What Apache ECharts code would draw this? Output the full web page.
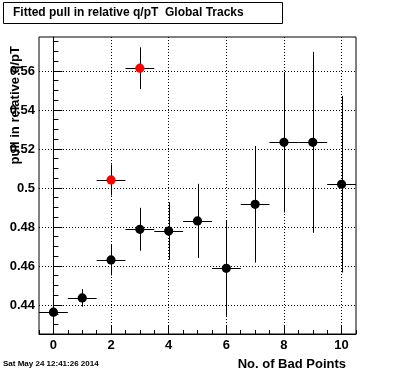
<!DOCTYPE html>
<html>
<head>
<meta charset="utf-8">
<script src="https://cdn.jsdelivr.net/npm/echarts@6/dist/echarts.min.js"></script>
<style>
html,body{margin:0;padding:0;background:#fff;}
#chart{width:396px;height:372px;}
</style>
</head>
<body>
<div id="chart"></div>
<script>
// ---- data ----
var xBins = [0, 1, 2, 3, 4, 5, 6, 7, 8, 9, 10];
var blackY = [0.4363, 0.4436, 0.4631, 0.4788, 0.4779, 0.4831, 0.4588, 0.4916, 0.5234, 0.5234, 0.5019];
var blackErr = [0.0055, 0.0045, 0.0080, 0.0110, 0.0148, 0.0190, 0.0244, 0.0299, 0.0360, 0.0464, 0.0453];
var redX = [2, 3];
var redY = [0.5041, 0.5614];
var redErr = [0.0080, 0.0107];
var binHalfWidth = 0.5;

var xMajorTicks = [0, 2, 4, 6, 8, 10];
var yMajorTicks = [0.44, 0.46, 0.48, 0.50, 0.52, 0.54, 0.56];
var xRange = [-0.5, 10.5];
var yRange = [0.4251, 0.5774];

var titleText = 'Fitted pull in relative q/pT  Global Tracks';
var xTitle = 'No. of Bad Points';
var yTitle = 'pull in relative q/pT';
var dateText = 'Sat May 24 12:41:26 2014';

// minor tick positions
var xMinorTicks = [];
for (var i = -1; i <= 21; i++) { var v = i * 0.5; if (v >= xRange[0] && v <= xRange[1]) xMinorTicks.push(+v.toFixed(2)); }
var yMinorTicks = [];
for (var j = 84; j <= 116; j++) { var w = +(j * 0.005).toFixed(3); if (w >= yRange[0] && w <= yRange[1]) yMinorTicks.push(w); }

var FONT = '"Liberation Sans", Arial, Helvetica, sans-serif';

function makeData(xs, ys, es) {
  return xs.map(function (x, k) { return [x, ys[k], es[k]]; });
}

function renderPoint(color) {
  return function (params, api) {
    var x = api.value(0), y = api.value(1), e = api.value(2);
    var c = api.coord([x, y]);
    var l = api.coord([x - binHalfWidth, y]);
    var r = api.coord([x + binHalfWidth, y]);
    var t = api.coord([x, y + e]);
    var b = api.coord([x, y - e]);
    var cx = Math.round(c[0]) + 0.5, cy = Math.round(c[1]) + 0.5;
    return {
      type: 'group',
      children: [
        { type: 'line', shape: { x1: l[0], y1: cy, x2: r[0], y2: cy }, style: { stroke: '#000', lineWidth: 1 } },
        { type: 'line', shape: { x1: cx, y1: t[1], x2: cx, y2: b[1] }, style: { stroke: '#000', lineWidth: 1 } },
        { type: 'circle', shape: { cx: c[0], cy: c[1], r: 4.6 }, style: { fill: color } }
      ]
    };
  };
}

var chart = echarts.init(document.getElementById('chart'), null, { renderer: 'canvas' });

var dotted = { show: true, lineStyle: { color: '#000', width: 1, type: [1, 2] } };

chart.setOption({
  backgroundColor: '#fff',
  animation: false,
  grid: { left: 39, right: 40, top: 37, bottom: 38, show: true, borderColor: '#000', borderWidth: 1, backgroundColor: 'transparent' },
  xAxis: [
    {
      type: 'value', min: xRange[0], max: xRange[1], position: 'bottom',
      axisLine: { show: true, lineStyle: { color: '#000', width: 1 } },
      axisTick: { show: true, inside: true, length: 8, customValues: xMajorTicks, lineStyle: { color: '#000' } },
      axisLabel: { show: true, customValues: xMajorTicks, margin: 5, color: '#000', fontFamily: FONT, fontWeight: 'bold', fontSize: 13 },
      splitLine: dotted
    },
    {
      type: 'value', min: xRange[0], max: xRange[1], position: 'bottom', offset: 0,
      axisLine: { show: false },
      axisTick: { show: true, inside: true, length: 4, customValues: xMinorTicks, lineStyle: { color: '#000' } },
      axisLabel: { show: false },
      splitLine: { show: false }
    }
  ],
  yAxis: [
    {
      type: 'value', min: yRange[0], max: yRange[1], position: 'left',
      axisLine: { show: true, lineStyle: { color: '#000', width: 1 } },
      axisTick: { show: true, inside: true, length: 9, customValues: yMajorTicks, lineStyle: { color: '#000' } },
      axisLabel: {
        show: true, customValues: yMajorTicks, margin: 4, color: '#000', fontFamily: FONT, fontWeight: 'bold', fontSize: 13,
        formatter: function (v) { return String(+v.toFixed(2)); }
      },
      splitLine: dotted
    },
    {
      type: 'value', min: yRange[0], max: yRange[1], position: 'left', offset: 0,
      axisLine: { show: false },
      axisTick: { show: true, inside: true, length: 5, customValues: yMinorTicks, lineStyle: { color: '#000' } },
      axisLabel: { show: false },
      splitLine: { show: false }
    }
  ],
  graphic: [
    { type: 'rect', shape: { x: 3.5, y: 2.5, width: 279, height: 21 }, style: { fill: '#fff', stroke: '#000', lineWidth: 1 }, z: 10 },
    { type: 'text', x: 13, y: 13, style: { text: titleText, fill: '#000', font: 'bold 12px ' + FONT, textAlign: 'left', textVerticalAlign: 'middle' }, z: 11 },
    { type: 'text', x: 346, y: 364, style: { text: xTitle, fill: '#000', font: 'bold 13px ' + FONT, textAlign: 'right', textVerticalAlign: 'middle' }, z: 11 },
    { type: 'text', x: 15, y: 46, rotation: Math.PI / 2, style: { text: yTitle, fill: '#000', font: 'bold 13px ' + FONT, textAlign: 'right', textVerticalAlign: 'middle' }, z: 11 },
    { type: 'text', x: 3, y: 364, style: { text: dateText, fill: '#000', font: 'bold 8px ' + FONT, textAlign: 'left', textVerticalAlign: 'middle' }, z: 11 }
  ],
  series: [
    { type: 'custom', xAxisIndex: 0, yAxisIndex: 0, clip: true, renderItem: renderPoint('#000'), data: makeData(xBins, blackY, blackErr), z: 5 },
    { type: 'custom', xAxisIndex: 0, yAxisIndex: 0, clip: true, renderItem: renderPoint('#ff0000'), data: makeData(redX, redY, redErr), z: 6 }
  ]
});
</script>
</body>
</html>
